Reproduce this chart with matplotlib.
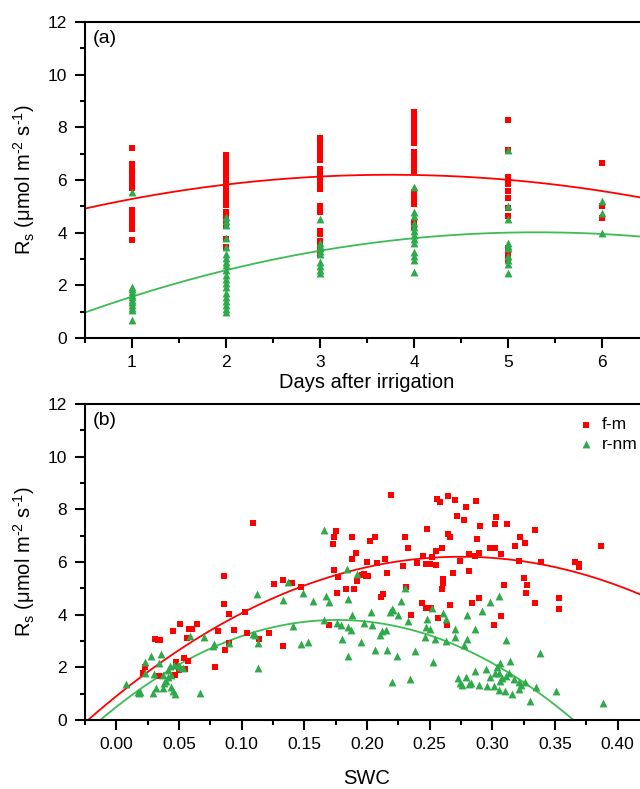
import numpy as np
import matplotlib
matplotlib.use("Agg")
import matplotlib.pyplot as plt
from matplotlib.ticker import MultipleLocator, FormatStrFormatter

plt.rcParams['font.family'] = ['Liberation Sans', 'DejaVu Sans']
plt.rcParams['mathtext.fontset'] = 'custom'
plt.rcParams['mathtext.rm'] = 'Liberation Sans'
plt.rcParams['mathtext.it'] = 'Liberation Sans:italic'

RED = '#ff0000'
GREEN = '#2eaa4a'

# soil respiration by day after irrigation
fm_by_day = {
    1: [7.2, 6.6, 6.5, 6.4, 6.3, 6.2, 6.1, 6.0, 5.9, 5.8, 5.7, 4.85, 4.7, 4.55, 4.4, 4.25, 4.15, 3.72],
    2: [6.95, 6.8, 6.65, 6.4, 6.25, 6.1, 5.95, 5.8, 5.65, 5.5, 5.35, 5.2, 5.05, 4.8, 4.6, 4.4, 4.25, 3.75, 3.45],
    3: [7.6, 7.45, 7.3, 7.1, 6.95, 6.75, 6.4, 6.25, 6.1, 5.95, 5.8, 5.65, 5.0, 4.8, 4.05, 3.95, 3.7, 3.55, 3.3, 3.15],
    4: [8.6, 8.45, 8.3, 8.15, 8.0, 7.8, 7.6, 7.4, 7.05, 6.9, 6.7, 6.5, 6.35, 5.55, 5.4, 5.25, 5.1, 4.35, 4.2],
    5: [8.28, 7.15, 6.1, 5.95, 5.85, 5.6, 5.3, 4.95, 4.65, 3.4, 3.2, 2.95],
    6: [6.66, 5.01, 4.54],
}
rnm_by_day = {
    1: [5.55, 1.95, 1.85, 1.75, 1.65, 1.55, 1.45, 1.35, 1.25, 1.15, 1.05, 0.68],
    2: [4.6, 4.45, 4.3, 3.78, 3.45, 3.2, 3.05, 2.9, 2.78, 2.58, 2.4, 2.25, 2.1, 1.95, 1.72, 1.55, 1.4, 1.25, 1.1, 0.97],
    3: [4.5, 3.6, 3.5, 3.4, 3.3, 3.2, 2.9, 2.75, 2.6, 2.45],
    4: [5.72, 4.8, 4.65, 4.35, 4.2, 4.05, 3.9, 3.75, 3.6, 3.28, 3.1, 2.95, 2.5],
    5: [7.15, 5.0, 4.5, 3.62, 3.5, 3.4, 3.1, 2.95, 2.8, 2.47],
    6: [5.21, 4.73, 3.98],
}

# quadratic fits vs days (highest power first)
fit_days_fm = [-0.1217, 0.912, 4.49]
fit_days_rnm = [-0.132, 1.40, 0.302]

# soil respiration vs soil water content
swc_fm = [0.021, 0.023, 0.031, 0.033, 0.035, 0.045, 0.051, 0.056, 0.058, 0.060, 0.064, 0.048, 0.047,
          0.054, 0.055, 0.057, 0.050, 0.034, 0.079, 0.086, 0.086, 0.087, 0.081, 0.090, 0.090, 0.094,
          0.103, 0.104, 0.109, 0.114, 0.122, 0.126, 0.133, 0.133, 0.140, 0.147, 0.170,
          0.219, 0.256, 0.258, 0.265, 0.270, 0.279, 0.272, 0.277, 0.287, 0.303, 0.302, 0.312, 0.290,
          0.334, 0.248, 0.265, 0.266, 0.230, 0.206, 0.202, 0.188, 0.175, 0.174, 0.173, 0.233, 0.260,
          0.255, 0.288, 0.322, 0.318, 0.326, 0.298, 0.302, 0.307, 0.281, 0.286, 0.289, 0.191, 0.188,
          0.200, 0.208, 0.214, 0.229, 0.240, 0.245, 0.247, 0.250, 0.252, 0.255, 0.274, 0.321, 0.339,
          0.174, 0.177, 0.192, 0.196, 0.199, 0.216, 0.269, 0.281, 0.366, 0.369, 0.369, 0.387, 0.261,
          0.261, 0.260, 0.231, 0.211, 0.213, 0.190, 0.183, 0.176, 0.244, 0.247, 0.251, 0.266, 0.289,
          0.284, 0.309, 0.325, 0.328, 0.327, 0.334, 0.353, 0.353, 0.235, 0.257, 0.264, 0.307, 0.301,
          0.201, 0.198]
rs_fm = [1.80, 2.00, 3.06, 3.03, 3.04, 3.37, 3.65, 3.11, 3.44, 3.47, 3.65, 2.19, 1.71,
         2.34, 1.92, 2.24, 1.90, 1.67, 2.00, 5.47, 4.41, 2.67, 3.37, 4.03, 2.91, 3.42,
         4.11, 3.32, 7.49, 3.09, 3.29, 5.16, 5.32, 2.81, 5.19, 5.06, 3.62,
         8.54, 8.41, 8.28, 8.51, 8.35, 8.08, 7.76, 7.58, 8.33, 7.70, 7.43, 7.46, 7.35,
         7.20, 7.24, 7.06, 6.96, 6.95, 6.95, 6.78, 6.96, 7.16, 6.96, 6.67, 6.52, 6.53,
         6.42, 6.89, 6.94, 6.59, 6.71, 6.53, 6.53, 6.30, 6.29, 6.24, 6.35, 6.33, 6.10,
         5.99, 5.96, 6.10, 5.86, 5.96, 6.24, 5.94, 5.94, 6.18, 5.90, 6.05, 6.05, 5.99,
         5.70, 5.44, 5.29, 5.49, 5.47, 5.58, 5.57, 5.65, 6.01, 5.92, 5.80, 6.62, 5.37,
         5.22, 4.99, 5.04, 4.68, 4.77, 4.96, 4.96, 4.84, 4.43, 4.25, 4.25, 4.37, 4.65,
         4.46, 5.11, 5.38, 5.11, 4.84, 4.44, 4.62, 4.23, 3.99, 3.87, 3.62, 3.94, 3.59,
         5.47, 5.53]

swc_rnm = [0.008, 0.017, 0.018, 0.019, 0.023, 0.028, 0.036, 0.034, 0.023, 0.030, 0.029, 0.032, 0.038,
           0.037, 0.037, 0.041, 0.043, 0.046, 0.049, 0.051, 0.053, 0.041, 0.044, 0.044, 0.045, 0.047,
           0.040, 0.067, 0.059, 0.070, 0.077, 0.078, 0.090, 0.109, 0.112, 0.113, 0.111, 0.113, 0.133,
           0.137, 0.141, 0.147, 0.153, 0.149, 0.157,
           0.166, 0.167, 0.170, 0.166, 0.176, 0.179, 0.185, 0.185, 0.187, 0.180, 0.188, 0.185, 0.195,
           0.198, 0.203, 0.204, 0.206, 0.210, 0.212, 0.215, 0.218, 0.220, 0.221, 0.227, 0.225, 0.216,
           0.224, 0.220, 0.230, 0.233, 0.238, 0.234, 0.246, 0.247, 0.248, 0.250, 0.252, 0.254, 0.253,
           0.261, 0.263, 0.263, 0.270, 0.270, 0.277, 0.280, 0.280, 0.286, 0.292, 0.298, 0.305, 0.311,
           0.306, 0.314, 0.338, 0.184, 0.192,
           0.273, 0.274, 0.276, 0.279, 0.281, 0.283, 0.286, 0.289, 0.295, 0.296, 0.298, 0.301, 0.302,
           0.304, 0.305, 0.306, 0.308, 0.310, 0.305, 0.311, 0.313, 0.316, 0.317, 0.321, 0.321, 0.323,
           0.326, 0.330, 0.335, 0.351, 0.388]
rs_rnm = [1.38, 1.05, 1.02, 1.08, 2.20, 2.43, 2.49, 2.15, 1.78, 1.74, 1.01, 1.23, 1.39,
          1.20, 1.70, 1.90, 2.05, 2.10, 2.08, 2.02, 1.96, 1.64, 1.71, 1.27, 1.11, 0.99,
          1.50, 1.01, 3.19, 3.14, 2.81, 2.89, 2.94, 3.25, 4.77, 1.96, 3.23, 2.91, 4.56,
          5.25, 3.58, 2.87, 2.97, 4.84, 4.51,
          7.22, 4.69, 4.48, 3.80, 3.67, 3.59, 4.58, 3.52, 3.42, 3.09, 3.97, 2.43, 2.96,
          3.67, 4.10, 3.59, 2.66, 3.22, 3.39, 3.42, 4.10, 4.23, 4.18, 4.51, 3.97, 2.66,
          2.43, 1.44, 5.01, 3.75, 2.63, 1.56, 3.16, 3.52, 3.82, 3.47, 4.25, 3.09, 2.20,
          4.08, 3.82, 3.01, 3.47, 3.16, 2.86, 3.97, 3.09, 3.47, 4.13, 4.48, 4.71, 3.04,
          2.18, 2.25, 2.53, 5.72, 5.55,
          1.59, 1.39, 1.34, 1.65, 1.37, 1.39, 1.87, 1.32, 1.92, 1.29, 1.65, 1.29, 1.80,
          2.03, 1.77, 1.47, 1.59, 1.11, 1.14, 1.67, 1.77, 0.99, 1.54, 1.19, 1.44, 1.34,
          1.44, 0.73, 1.24, 1.11, 0.63]

# quadratic fits vs SWC (highest power first)
fit_swc_fm = [-70.0, 38.5, 0.906]
fit_swc_rnm = [-106.6, 37.52, 0.498]


def flatten(by_day):
    xs, ys = [], []
    for d, vals in by_day.items():
        xs += [d] * len(vals)
        ys += vals
    return xs, ys


def style_axes(ax):
    for side in ['left', 'bottom', 'top', 'right']:
        ax.spines[side].set_linewidth(1.5)
    ax.tick_params(which='major', direction='out', length=7, width=1.5,
                   labelsize=12.5, top=False, right=False)
    ax.tick_params(axis='y', which='major', pad=6)
    ax.tick_params(axis='x', which='major', pad=5)
    ax.tick_params(which='minor', direction='out', length=3.6, width=1.5,
                   top=False, right=False)
    ax.set_ylim(0, 12)
    ax.yaxis.set_major_locator(MultipleLocator(2))
    ax.yaxis.set_minor_locator(MultipleLocator(1))


fig = plt.figure(figsize=(6.4, 7.89), dpi=100)
ax1 = fig.add_axes([85 / 640, 1 - 338 / 789, 564 / 640, 316 / 789])
ax2 = fig.add_axes([85 / 640, 1 - 720 / 789, 564 / 640, 316 / 789])

# hyphen (U+2010) in the exponents, not a minus sign
ylab = r'R$_\mathregular{s}$ (μmol m$^\mathregular{‐2}$ s$^\mathregular{‐1}$)'

# (a) days after irrigation
x, y = flatten(fm_by_day)
ax1.scatter(x, y, marker='s', s=24, color=RED, linewidths=0, zorder=3)
x, y = flatten(rnm_by_day)
ax1.scatter(x, y, marker='^', s=32, color=GREEN, linewidths=0, zorder=4)
xd = np.linspace(0.5, 6.5, 200)
ax1.plot(xd, np.polyval(fit_days_fm, xd), color=RED, lw=1.3, zorder=2)
ax1.plot(xd, np.polyval(fit_days_rnm, xd), color='#3dbb55', lw=1.3, zorder=2)
style_axes(ax1)
ax1.set_xlim(0.5, 6.5)
ax1.xaxis.set_minor_locator(MultipleLocator(0.5))
ax1.set_xticks([1, 2, 3, 4, 5, 6])
ax1.set_xlabel('Days after irrigation', fontsize=14.5)
ax1.xaxis.set_label_coords(0.5, -0.11)
ax1.set_ylabel(ylab, fontsize=14.5)
ax1.yaxis.set_label_coords(-0.085, 0.5)
ax1.text(0.013, 0.975, '(a)', transform=ax1.transAxes, fontsize=14, va='top', ha='left')

# (b) soil water content
ax2.scatter(swc_fm, rs_fm, marker='s', s=24, color=RED, linewidths=0, zorder=3, label='f-m')
ax2.scatter(swc_rnm, rs_rnm, marker='^', s=32, color=GREEN, linewidths=0, zorder=4, label='r-nm')
xs = np.linspace(-0.025, 0.425, 300)
ax2.plot(xs, np.polyval(fit_swc_fm, xs), color=RED, lw=1.3, zorder=2)
ax2.plot(xs, np.polyval(fit_swc_rnm, xs), color='#3dbb55', lw=1.3, zorder=2)
style_axes(ax2)
ax2.set_xlim(-0.025, 0.425)
ax2.xaxis.set_minor_locator(MultipleLocator(0.025))
ax2.set_xticks(np.arange(0, 0.41, 0.05))
ax2.xaxis.set_major_formatter(FormatStrFormatter('%.2f'))
ax2.set_xlabel('SWC', fontsize=14.5)
ax2.xaxis.set_label_coords(0.5, -0.155)
ax2.set_ylabel(ylab, fontsize=14.5)
ax2.yaxis.set_label_coords(-0.085, 0.5)
ax2.text(0.013, 0.975, '(b)', transform=ax2.transAxes, fontsize=14, va='top', ha='left')
ax2.legend(loc='upper left', bbox_to_anchor=(0.853, 1.0), frameon=False, fontsize=12.5,
           handlelength=0.8, handletextpad=0.5, borderpad=0.25, labelspacing=0.25,
           markerscale=1.0)

fig.savefig('out.png', dpi=100)
